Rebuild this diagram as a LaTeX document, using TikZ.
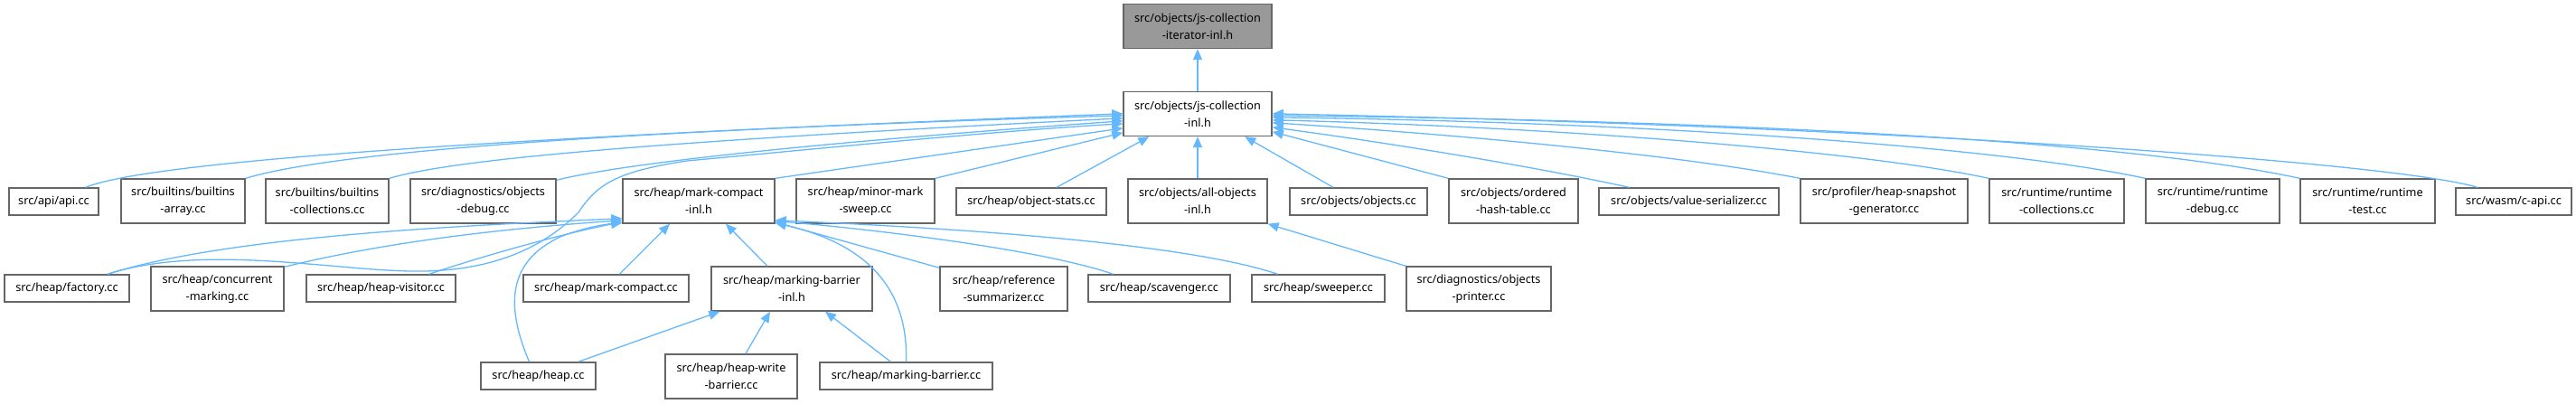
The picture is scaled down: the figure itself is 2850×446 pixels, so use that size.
\documentclass[tikz,border=0pt]{standalone}
\usepackage{fontspec}
\newfontfamily\nodefont{Noto Sans}
\usetikzlibrary{arrows.meta,calc}
\definecolor{edgeblue}{HTML}{63B8FF}
\definecolor{boxline}{HTML}{666666}
\definecolor{topfill}{HTML}{999999}
\begin{document}
\begin{tikzpicture}[x=0.5pt,y=-0.5pt,
 box/.style={draw=boxline, line width=0.7pt, fill=white, inner sep=0pt, align=center, font=\nodefont\fontsize{6.35pt}{9.65pt}\selectfont},
 one/.style={box, minimum height=15pt, minimum width=#1*0.5pt},
 two/.style={box, minimum height=24.5pt, minimum width=#1*0.5pt},
 edge/.style={draw=edgeblue, line width=0.65pt, -{Triangle[length=6pt,width=5pt]}}]
\useasboundingbox (0,0) rectangle (2850,446);
% nodes
\node[two=164, fill=topfill] (top) at (1325,29) {src/objects/js-collection\\-iterator-inl.h};
\node[two=164] (jsc) at (1325,126) {src/objects/js-collection\\-inl.h};
\node[one=99] (api) at (59.5,223) {src/api/api.cc};
\node[two=137] (barr) at (202.5,222.5) {src/builtins/builtins\\-array.cc};
\node[two=136] (bcoll) at (362,222.5) {src/builtins/builtins\\-collections.cc};
\node[two=161] (ddebug) at (534.5,222.5) {src/diagnostics/objects\\-debug.cc};
\node[two=168] (mcinl) at (773,222.5) {src/heap/mark-compact\\-inl.h};
\node[two=153] (minor) at (957.5,222.5) {src/heap/minor-mark\\-sweep.cc};
\node[one=166] (ostats) at (1141,223) {src/heap/object-stats.cc};
\node[two=154] (allobj) at (1325,222.5) {src/objects/all-objects\\-inl.h};
\node[one=152] (objcc) at (1503,223) {src/objects/objects.cc};
\node[two=143] (ordered) at (1674.5,222.5) {src/objects/ordered\\-hash-table.cc};
\node[one=199] (vser) at (1868.5,223) {src/objects/value-serializer.cc};
\node[two=185] (hsnap) at (2084.5,222.5) {src/profiler/heap-snapshot\\-generator.cc};
\node[two=149] (rcoll) at (2275.5,222.5) {src/runtime/runtime\\-collections.cc};
\node[two=148] (rdebug) at (2448,222.5) {src/runtime/runtime\\-debug.cc};
\node[two=149] (rtest) at (2619.5,222.5) {src/runtime/runtime\\-test.cc};
\node[one=128] (capi) at (2781,223) {src/wasm/c-api.cc};
\node[one=138] (factory) at (74,319) {src/heap/factory.cc};
\node[two=147] (conc) at (240.5,319.5) {src/heap/concurrent\\-marking.cc};
\node[one=165] (hvisit) at (421.5,319) {src/heap/heap-visitor.cc};
\node[one=183] (mccc) at (670.5,319) {src/heap/mark-compact.cc};
\node[two=178] (mbinl) at (876,319.5) {src/heap/marking-barrier\\-inl.h};
\node[two=141] (refsum) at (1110.5,319.5) {src/heap/reference\\-summarizer.cc};
\node[one=157] (scav) at (1282.5,319) {src/heap/scavenger.cc};
\node[one=147] (sweep) at (1458.5,319) {src/heap/sweeper.cc};
\node[two=160] (oprint) at (1636,319.5) {src/diagnostics/objects\\-printer.cc};
\node[one=127] (heapcc) at (595.5,416) {src/heap/heap.cc};
\node[two=146] (hwb) at (809,416.5) {src/heap/heap-write\\-barrier.cc};
\node[one=191] (mbcc) at (1002.5,416) {src/heap/marking-barrier.cc};
% edges
\draw[edge] (jsc.north) -- (top.south);
% left side into jsc
\draw[edge] ($(api.north east)+(-15,0)$) .. controls (150,185) and (400,158) .. ($(jsc.north west)+(0,25)$);
\draw[edge] (barr.north east) .. controls (330,180) and (500,150) .. ($(jsc.north west)+(0,27)$);
\draw[edge] (bcoll.north east) .. controls (490,180) and (650,160) .. ($(jsc.north west)+(0,30)$);
\draw[edge] ($(ddebug.north east)+(0,2)$) .. controls (660,188) and (800,165) .. ($(jsc.north west)+(0,33)$);
\draw[edge] ($(factory.north)+(45,0)$) .. controls (230,268) and (380,302) .. (470,300)
   .. controls (560,298) and (610,265) .. (640,235)
   .. controls (660,205) and (680,190) .. (760,178)
   .. controls (900,165) and (1100,145) .. ($(jsc.north west)+(0,36)$);
\draw[edge] (mcinl.north east) -- ($(jsc.north west)+(0,41)$);
\draw[edge] (minor.north east) -- ($(jsc.north west)+(0,46)$);
% bottom into jsc
\draw[edge] ($(ostats.north)+(28,0)$) -- ($(jsc.south west)+(29,0)$);
\draw[edge] (allobj.north) -- (jsc.south);
\draw[edge] ($(objcc.north)+(-28,0)$) -- ($(jsc.south west)+(135,0)$);
% right side into jsc
\draw[edge] (ordered.north west) -- ($(jsc.north east)+(0,45)$);
\draw[edge] ($(vser.north)+(-66,0)$) .. controls (1700,185) and (1550,160) .. ($(jsc.north east)+(0,40)$);
\draw[edge] (hsnap.north west) .. controls (1850,170) and (1600,148) .. ($(jsc.north east)+(0,35)$);
\draw[edge] (rcoll.north west) .. controls (2050,165) and (1700,140) .. ($(jsc.north east)+(0,32)$);
\draw[edge] (rdebug.north west) .. controls (2200,160) and (1800,135) .. ($(jsc.north east)+(0,29)$);
\draw[edge] (rtest.north west) .. controls (2350,155) and (1900,133) .. ($(jsc.north east)+(0,27)$);
\draw[edge] ($(capi.north)+(-40,0)$) .. controls (2650,180) and (2100,140) .. ($(jsc.north east)+(0,25)$);
% into mark-compact-inl.h
\draw[edge] ($(factory.north)+(45,0)$) .. controls (250,262) and (500,250) .. ($(mcinl.south west)+(0,-6)$);
\draw[edge] ($(conc.north east)+(0,1)$) .. controls (450,262) and (600,250) .. ($(mcinl.south west)+(0,-4)$);
\draw[edge] ($(hvisit.north)+(53,0)$) .. controls (560,275) and (640,255) .. ($(mcinl.south west)+(0,-2)$);
\draw[edge] ($(heapcc.north)+(-10,0)$) .. controls (560,340) and (560,290) .. (620,262)
   .. controls (645,252) and (670,248) .. ($(mcinl.south west)+(0,-1)$);
\draw[edge] ($(mccc.north)+(15,0)$) -- ($(mcinl.south)+(-32,0)$);
\draw[edge] ($(mbinl.north)+(-27,0)$) -- ($(mcinl.south)+(30,0)$);
\draw[edge] (mbcc.north) .. controls (1005,320) and (960,270) .. ($(mcinl.south east)+(0,-1)$);
\draw[edge] ($(refsum.north west)+(0,2)$) -- ($(mcinl.south east)+(0,-2)$);
\draw[edge] ($(scav.north)+(-51,0)$) .. controls (1150,275) and (950,252) .. ($(mcinl.south east)+(0,-3)$);
\draw[edge] ($(sweep.north)+(-45,0)$) .. controls (1300,265) and (1000,250) .. ($(mcinl.south east)+(0,-4)$);
% others
\draw[edge] (oprint.north west) -- (allobj.south east);
\draw[edge] ($(heapcc.north east)+(-20,0)$) -- ($(mbinl.south west)+(10,0)$);
\draw[edge] ($(hwb.north)+(16,0)$) -- ($(mbinl.south)+(-24,0)$);
\draw[edge] ($(mbcc.north)+(-17,0)$) -- ($(mbinl.south)+(37,0)$);
\end{tikzpicture}
\end{document}
